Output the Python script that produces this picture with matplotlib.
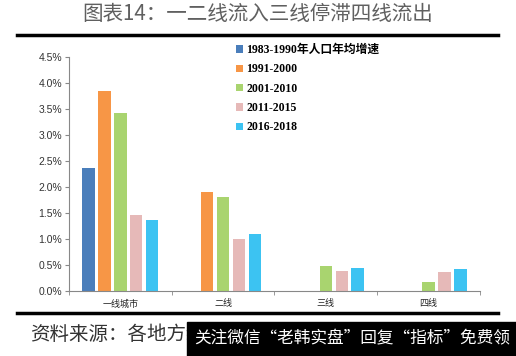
import numpy as np
import matplotlib.pyplot as plt
from matplotlib.lines import Line2D
from matplotlib.patches import Rectangle

plt.rcParams['font.family'] = ['Noto Sans CJK SC', 'DejaVu Sans']

categories = ['一线城市', '二线', '三线', '四线']
series_names = ['1983-1990年人口年均增速', '1991-2000', '2001-2010', '2011-2015', '2016-2018']
values = [
    [2.37, 0.0, 0.0, 0.0],
    [3.85, 1.90, 0.0, 0.0],
    [3.42, 1.80, 0.48, 0.18],
    [1.47, 1.00, 0.39, 0.36],
    [1.37, 1.10, 0.44, 0.42],
]
colors = ['#4a7ebb', '#f79646', '#a9d46f', '#e6b9b8', '#3cc3f2']
yticks = [0, 0.5, 1.0, 1.5, 2.0, 2.5, 3.0, 3.5, 4.0, 4.5]

fig = plt.figure(figsize=(5.16, 3.56), dpi=100)
ax = fig.add_axes([0.1337, 0.1826, 0.7963, 0.6573])

x = np.arange(len(categories))
step = 0.155
for k in range(len(series_names)):
    v = np.array(values[k])
    m = v > 0
    ax.bar(x[m] + (k - 2) * step, v[m], width=0.12, color=colors[k],
           label=series_names[k], zorder=2)

ax.set_xlim(-0.5, 3.5)
ax.set_ylim(0, 4.5)
ax.set_yticks(yticks)
ax.set_yticklabels(['%.1f%%' % t for t in yticks], fontsize=7.5, color='#333333',
                   family=['Liberation Sans', 'DejaVu Sans'])
ax.set_xticks(x)
ax.set_xticklabels(categories, fontsize=6.5, color='#222222')
ax.set_xticks(np.arange(-0.5, 4, 1), minor=True)
ax.tick_params(axis='x', which='major', length=0, pad=6)
ax.tick_params(axis='x', which='minor', length=3, color='#888888')
ax.tick_params(axis='y', length=3, color='#888888', pad=2)
for s in ['top', 'right']:
    ax.spines[s].set_visible(False)
ax.spines['left'].set_color('#888888')
ax.spines['bottom'].set_color('#888888')

leg = ax.legend(loc='upper left', bbox_to_anchor=(0.395, 1.075), frameon=False,
                handlelength=0.55, handleheight=0.55, handletextpad=0.3,
                labelspacing=0.62, borderaxespad=0,
                prop={'family': ['Liberation Serif', 'Noto Sans CJK SC'],
                      'weight': 'bold', 'size': 8.5})

fig.text(0.5, 0.962, '图表14：一二线流入三线停滞四线流出', ha='center', va='center',
         fontsize=14.8, color='#606060')
fig.add_artist(Line2D([17 / 516, 498 / 516], [1 - 35 / 356] * 2, color='black', lw=2.5))
fig.add_artist(Line2D([17 / 516, 498 / 516], [1 - 313 / 356] * 2, color='black', lw=2.5))

fig.text(30 / 516, 1 - 334 / 356, '资料来源：各地方统计局，恒大研究院', ha='left', va='center',
         fontsize=14, color='#333333', style='italic')
fig.add_artist(Rectangle((187 / 516, 0), 329 / 516, 34 / 356, transform=fig.transFigure,
                         color='black', zorder=5))
fig.text(194 / 516, 1 - 339 / 356, '关注微信“老韩实盘”回复“指标”免费领', ha='left', va='center',
         fontsize=12, color='white', zorder=6)

fig.savefig('out.png', dpi=100)
